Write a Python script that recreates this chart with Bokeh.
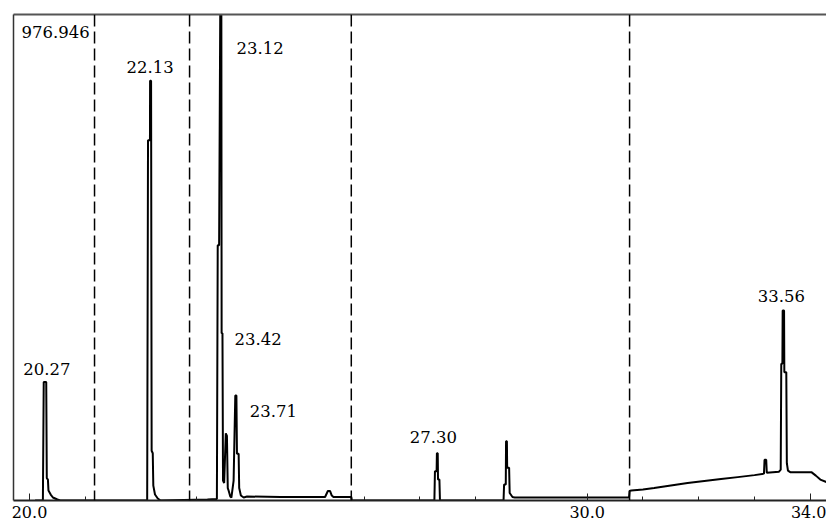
from bokeh.plotting import figure
from bokeh.models import (ColumnDataSource, Range1d, LinearAxis, FixedTicker,
                          PrintfTickFormatter, Span)
from bokeh.core.properties import value
from bokeh.embed import file_html
from bokeh.resources import INLINE

# chromatogram trace (retention time, intensity)
times = [20.10, 20.24, 20.255, 20.30, 20.31, 20.33, 20.34, 20.38, 20.42, 20.50, 20.55,
         22.11, 22.125, 22.16, 22.162, 22.18, 22.19, 22.21, 22.22, 22.25, 22.30, 22.35,
         23.19, 23.36, 23.375, 23.40, 23.42, 23.44, 23.445, 23.46, 23.47, 23.49, 23.52,
         23.54, 23.555, 23.57, 23.60, 23.62, 23.66, 23.69, 23.71, 23.72, 23.75, 23.76,
         23.79, 23.84, 23.90, 24.50, 25.30, 25.35, 25.39, 25.42, 25.45, 25.77, 25.78,
         27.26, 27.27, 27.30, 27.305, 27.32, 27.325, 27.35, 27.36,
         28.50, 28.51, 28.54, 28.545, 28.56, 28.565, 28.60, 28.61, 28.66, 28.70,
         30.75, 30.76, 30.79, 31.0, 31.2, 31.5, 31.8, 32.1, 32.4, 32.7, 33.0, 33.17,
         33.18, 33.21, 33.22, 33.44, 33.47, 33.48, 33.50, 33.505, 33.53, 33.535, 33.57,
         33.58, 33.60, 33.64, 34.02, 34.10, 34.18, 34.29, 34.40]
intensity = [0, 0, 238, 238, 45, 42, 20, 12, 6, 2, 0,
             0, 724, 724, 844, 844, 100, 95, 30, 12, 4, 0,
             2, 3, 513, 513, 980, 980, 336, 336, 40, 35, 135,
             130, 25, 20, 8, 6, 40, 211, 211, 94, 94, 25,
             10, 6, 8, 7, 7, 19, 19, 10, 7, 7, 0,
             0, 59, 59, 95, 95, 42, 42, 0,
             0, 32, 32, 119, 119, 66, 66, 15, 7, 6,
             6, 19, 20, 22, 25, 30, 35, 39, 43, 47, 51, 54,
             82, 82, 56, 58, 62, 275, 275, 382, 382, 258, 258,
             75, 60, 57, 57, 50, 42, 37, 35]

y_max = 976.946
dividers = [21.166, 22.87, 25.77, 30.76]

peak_labels = ["20.27", "22.13", "23.12", "23.42", "23.71", "27.30", "33.56"]
label_x = [19.887, 21.739, 23.712, 23.676, 23.950, 26.819, 33.059]
label_y = [265, 872, 909, 325, 180, 127, 412]

x_ticks = [20, 30, 34]
x_minor = [21, 23, 26, 27, 28, 31, 32, 33]

font = "DejaVu Serif"

p = figure(width=826, height=524, output_backend="svg", toolbar_location=None,
           x_range=Range1d(19.713, 34.291), y_range=Range1d(0, y_max),
           min_border_left=13, min_border_top=14, min_border_right=0,
           min_border_bottom=24)
p.outline_line_color = None
p.xgrid.visible = False
p.ygrid.visible = False

# bottom axis with inward ticks
xa = p.xaxis[0]
xa.ticker = FixedTicker(ticks=x_ticks, minor_ticks=x_minor)
xa.formatter = PrintfTickFormatter(format="%.1f")
xa.major_tick_in = 7
xa.major_tick_out = 0
xa.minor_tick_in = 4
xa.minor_tick_out = 0
xa.major_tick_line_color = "#222"
xa.minor_tick_line_color = "#222"
xa.axis_line_color = "#222"
xa.axis_line_width = 2
xa.major_label_standoff = 5
xa.major_label_text_font = font
xa.major_label_text_font_size = "16px"
xa.major_label_text_color = "black"

# left and top borders drawn as bare axes
ya = p.yaxis[0]
ya.ticker = FixedTicker(ticks=[])
ya.major_tick_in = 0
ya.major_tick_out = 0
ya.minor_tick_in = 0
ya.minor_tick_out = 0
ya.major_label_standoff = 0
ya.axis_line_color = "#333"
ya.axis_line_width = 1.5

top = LinearAxis(ticker=FixedTicker(ticks=[]), major_tick_in=0, major_tick_out=0,
                 minor_tick_in=0, minor_tick_out=0, major_label_standoff=0,
                 axis_line_color="#555", axis_line_width=2)
p.add_layout(top, "above")

for d in dividers:
    p.add_layout(Span(location=d, dimension="height", line_color="black",
                      line_width=1.5, line_dash="12 5"))

p.line(times, intensity, line_color="black", line_width=2)

src = ColumnDataSource(data=dict(x=label_x, y=label_y, text=peak_labels))
p.text(x="x", y="y", text="text", source=src, text_font=value(font),
       text_font_size="16.5px", text_align="left", text_baseline="middle",
       text_color="black")
p.text(x=[19.857], y=[941], text=[f"{y_max}"], text_font=value(font),
       text_font_size="16.5px", text_align="left", text_baseline="middle",
       text_color="black")

open("out.html", "w").write(file_html(p, INLINE))
